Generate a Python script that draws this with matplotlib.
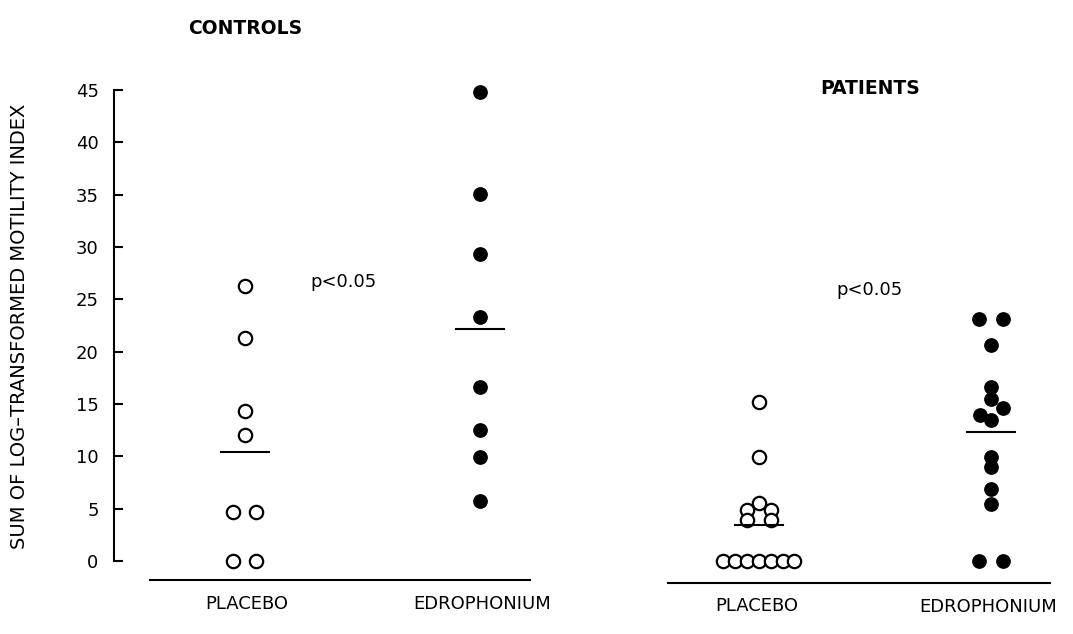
import numpy as np
import matplotlib
matplotlib.use("Agg")
import matplotlib.pyplot as plt

plt.rcParams['font.family'] = ['DejaVu Sans']

# ---- data ----
groups = ["PLACEBO", "EDROPHONIUM"]
panel_titles = ["CONTROLS", "PATIENTS"]
y_ticks = [0, 5, 10, 15, 20, 25, 30, 35, 40, 45]
y_label = "SUM OF LOG\u2013TRANSFORMED MOTILITY INDEX"
p_text = "p<0.05"

controls_placebo = [26.3, 21.3, 14.3, 12.0, 4.7, 4.7, 0.0, 0.0]
controls_edro = [44.8, 35.1, 29.3, 23.3, 16.6, 12.5, 9.9, 5.7]
patients_placebo = [15.2, 9.9, 5.5, 4.9, 4.9, 3.9, 3.9, 0.0, 0.0, 0.0, 0.0, 0.0, 0.0, 0.0]
patients_edro = [23.1, 23.1, 20.6, 16.6, 15.5, 14.6, 13.9, 13.5, 9.9, 9.0, 6.9, 5.4, 0.0, 0.0]

# ---- layout (horizontal offsets to avoid overlap) ----
off_cp = [0, 0, 0, 0, -0.049, 0.049, -0.049, 0.049]
off_ce = [0] * 8
off_pp = [0, 0, 0, -0.052, 0.052, -0.052, 0.052,
          -0.153, -0.102, -0.051, 0, 0.051, 0.102, 0.153]
off_pe = [-0.05, 0.05, 0, 0, 0, 0.052, -0.047, 0, 0, 0, 0, 0, -0.05, 0.05]

W, H = 1073, 634
fig = plt.figure(figsize=(W / 100, H / 100), dpi=100)

def px_axes(x0, x1, ytop, ybot):
    return fig.add_axes([x0 / W, (H - ybot) / H, (x1 - x0) / W, (ybot - ytop) / H])

ytop_px = 79.4
axL = px_axes(150, 530, ytop_px, 580)
axR = px_axes(668, 1050, ytop_px, 583)

ms = 9.6
LW = 1.5
def draw(ax, plc, edr, oplc, oedr, xlim, ylim):
    ax.set_xlim(*xlim)
    ax.set_ylim(*ylim)
    ax.plot(np.array(oplc) + 0, plc, 'o', ms=ms, mfc='white', mec='black', mew=1.6,
            linestyle='none', clip_on=False, zorder=3)
    ax.plot(np.array(oedr) + 1, edr, 'o', ms=ms, mfc='black', mec='black', mew=1.0,
            linestyle='none', clip_on=False, zorder=3)
    for xc, vals in ((0, plc), (1, edr)):
        m = np.mean(vals)
        ax.plot([xc - 0.104, xc + 0.104], [m, m], color='black', lw=LW, zorder=4)
    for s in ('top', 'right'):
        ax.spines[s].set_visible(False)
    ax.spines['bottom'].set_linewidth(LW)
    ax.set_xticks([])

draw(axL, controls_placebo, controls_edro, off_cp, off_ce, (-0.404, 1.213), (-1.8, 46))
draw(axR, patients_placebo, patients_edro, off_pp, off_pe, (-0.392, 1.254), (-2.1, 46))

axL.spines['left'].set_bounds(0, 45)
axL.spines['left'].set_position(('outward', 26))
axL.spines['left'].set_linewidth(LW)
axL.set_yticks(y_ticks)
axL.set_yticklabels([str(t) for t in y_ticks], fontsize=13)
axL.tick_params(axis='y', direction='in', length=6.5, width=LW, pad=11)
axR.spines['left'].set_visible(False)
axR.set_yticks([])

# texts
fig.text(20 / W, 1 - 326 / H, y_label, rotation=90, ha='center', va='center', fontsize=14)
fig.text(245 / W, 1 - 28 / H, panel_titles[0], ha='center', va='center', fontsize=13.5, fontweight='bold')
fig.text(870 / W, 1 - 88 / H, panel_titles[1], ha='center', va='center', fontsize=13.5, fontweight='bold')
fig.text(344 / W, 1 - 282 / H, p_text, ha='center', va='center', fontsize=13)
fig.text(870 / W, 1 - 290 / H, p_text, ha='center', va='center', fontsize=13)
fig.text(247 / W, 1 - 604 / H, groups[0], ha='center', va='center', fontsize=13)
fig.text(482 / W, 1 - 604 / H, groups[1], ha='center', va='center', fontsize=13)
fig.text(757 / W, 1 - 606 / H, groups[0], ha='center', va='center', fontsize=13)
fig.text(988 / W, 1 - 607 / H, groups[1], ha='center', va='center', fontsize=13)

fig.savefig("out.png", dpi=100)
